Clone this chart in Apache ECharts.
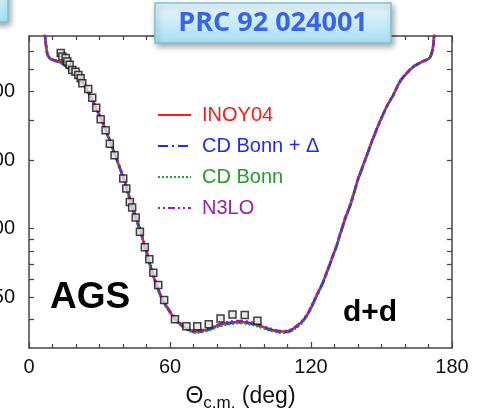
<!DOCTYPE html>
<html><head><meta charset="utf-8">
<script src="https://cdn.jsdelivr.net/npm/echarts@6/dist/echarts.min.js"></script>
<style>html,body{margin:0;padding:0;background:#fff;overflow:hidden}#c{width:485px;height:412px}</style>
</head><body><div id="c"></div>
<script>
// ---- data ----
const thetaCurve = [6,6.8,7.8,9,11,14,17,20,23,26,29,32,35,38,41,44,47,50,53,56,59,62,65,68,71,74,77,80,83,86,89,92,95,98,101,104,107,110,113,116,119,122,125,128,131,134,137,140,143,146,149,152,155,158,161,164,167,170,171,171.9,172.4,173.2];
const inoy04      = [900,704,585,558,546,533,504,470,434,383,330,282,234,193,158,124,101,79,62,51,44.8,40.5,37.7,36.2,35.4,35.7,36.5,37.5,38.3,38.8,39.0,38.9,38.4,37.6,36.7,35.9,35.4,35.5,36.8,39.0,43,50,58,70,85,107,130,165,200,243,290,340,386,445,484,518,538,556,575,625,704,900];
const cdBonnDelta = [900,700,582,556,545,531,503,469,433,382,329,281,233,192,157,123,100,78.5,61.7,50.8,44.6,40.3,37.5,36.0,35.2,35.5,36.3,37.3,38.1,38.6,38.8,38.7,38.2,37.4,36.5,35.7,35.2,35.3,36.6,38.8,42.8,49.7,57.7,69.6,84.6,106,129,164,199,242,289,339,385,444,483,517,537,555,573,622,700,900];
const cdBonn      = [900,698,580,555,544,530,502,468,432,381,328,280,232,191,156,122,99.5,78,61.3,50.5,44.3,40.1,37.3,35.8,35.0,35.3,36.0,37.0,37.8,38.3,38.5,38.4,37.9,37.1,36.2,35.5,35.0,35.1,36.3,38.5,42.5,49.4,57.4,69.2,84.2,105.5,128.5,163,198,241,288,338,384,443,482,516,536,554,572,620,698,900];
const n3lo        = [900,706,588,560,548,535,506,472,436,385,332,284,236,195,159,125,102,79.5,62.4,51.3,45.1,40.8,38.0,36.5,35.7,36.0,36.8,37.8,38.7,39.2,39.4,39.3,38.8,37.9,37.0,36.1,35.6,35.7,37.0,39.3,43.3,50.3,58.4,70.5,85.5,108,131,166,201,244,291,341,387,446,485,519,539,557,577,628,706,900];
const thetaData  = [13.5,14.2,15.6,16.3,17.3,18.4,19.8,21.0,22.0,22.7,25.2,26.9,28.6,30.5,32.6,34.4,36.4,40.1,41.4,42.9,43.9,45.4,47.2,49.3,51.2,52.9,55.0,57.5,62.1,67.0,71.6,76.5,81.5,86.6,91.8,97.2];
const dataValues = [589,569,560,541,523,497,488,472,457,434,410,375,339,302,270,236,210,166,150,131,124,112,97,83,73.5,64.2,56.6,48.7,40.1,37.4,37.4,38.1,40.4,42.1,41.9,39.5];
const xTickLabels = [0,60,120,180];
const yTickLabels = [50,100,200,400];
const yTicks = [40,50,60,70,80,90,100,200,300,400,500,600];
const seriesNames = ['INOY04','CD Bonn + \u0394','CD Bonn','N3LO'];

// ---- chart ----
const FONT = '"Liberation Sans", Arial, Helvetica, sans-serif';
const pair = (xs, ys) => xs.map((x, i) => [x, ys[i]]);
const frameLine = {show:true, onZero:false, lineStyle:{color:'#444', width:1.5}};
const tickStyle = {color:'#444', width:1.2};
const colors = ['#f21d1d','#1f2cf5','#2a9a2a','#9a1fa8'];
const dashes = ['solid',[10,4,2,4],[2,2],[2,3,2,3,7,3]];
const curves = [inoy04, cdBonnDelta, cdBonn, n3lo];

const chart = echarts.init(document.getElementById('c'), null, {renderer:'canvas'});
const lineSeries = curves.map((vals, i) => ({
  name: seriesNames[i], type:'line', data: pair(thetaCurve, vals),
  symbol:'none', showSymbol:false, smooth:0.3, clip:true, z:2+i,
  lineStyle:{color:colors[i], width:2.5, type:dashes[i]},
  itemStyle:{color:colors[i]}
}));
const boxStyle = {
  fill:{type:'linear',x:0,y:0,x2:0,y2:1,colorStops:[{offset:0,color:'#e9f8fd'},{offset:1,color:'#a9dff4'}]},
  stroke:'#79c3dc', lineWidth:1.5, shadowBlur:6, shadowOffsetX:2, shadowOffsetY:3, shadowColor:'rgba(0,0,0,0.35)'
};
const option = {
  animation:false,
  grid:{left:29, right:33, top:36, bottom:64, outerBoundsMode:'none', containLabel:false},
  xAxis:[{
    type:'value', min:0, max:180, interval:60, position:'bottom',
    axisLine:frameLine,
    axisTick:{inside:true, length:6, lineStyle:tickStyle},
    minorTick:{show:true, splitNumber:6, length:4, lineStyle:tickStyle},
    splitLine:{show:false}, minorSplitLine:{show:false},
    axisLabel:{fontSize:20, color:'#111', fontFamily:FONT, margin:9, customValues:xTickLabels},
    name:'{a|\u0398}{b|c.m.}{a| (deg)}', nameLocation:'middle', nameGap:34,
    nameTextStyle:{rich:{
      a:{fontSize:23, fontFamily:FONT, color:'#111', lineHeight:30, verticalAlign:'middle'},
      b:{fontSize:17, fontFamily:FONT, color:'#111', lineHeight:30, verticalAlign:'bottom'}
    }}
  },{
    type:'value', min:0, max:180, interval:60, position:'top',
    axisLine:frameLine,
    axisTick:{inside:true, length:6, lineStyle:tickStyle},
    minorTick:{show:true, splitNumber:6, length:4, lineStyle:tickStyle},
    splitLine:{show:false}, axisLabel:{show:false}
  }],
  yAxis:[{
    type:'log', min:30, max:700, position:'left',
    axisLine:frameLine,
    axisTick:{inside:true, length:5, lineStyle:tickStyle, customValues:yTicks},
    axisLabel:{fontSize:20, color:'#111', fontFamily:FONT, margin:14, customValues:yTickLabels,
      formatter:v => String(Math.round(v))},
    splitLine:{show:false}
  },{
    type:'log', min:30, max:700, position:'right',
    axisLine:frameLine,
    axisTick:{inside:true, length:5, lineStyle:tickStyle, customValues:yTicks},
    axisLabel:{show:false}, splitLine:{show:false}
  }],
  legend:{
    orient:'vertical', left:157, top:105, itemWidth:33, itemHeight:14, itemGap:11, padding:0,
    itemStyle:{opacity:0},
    data: seriesNames.map((n, i) => ({name:n, textStyle:{color:colors[i]}})),
    textStyle:{fontSize:20, fontFamily:FONT, padding:[0,0,0,6]}
  },
  series:[...lineSeries, {
    name:'AGS data', type:'scatter', data: pair(thetaData, dataValues),
    symbol:'rect', symbolSize:7, z:10,
    itemStyle:{color:'#e4e4e4', borderColor:'#111', borderWidth:1.5}
  }],
  graphic:[
    {type:'rect', z:100, shape:{x:155, y:3, width:236, height:40}, style:boxStyle},
    {type:'text', z:101, x:273, y:23, style:{text:'PRC 92 024001', font:'bold 27px "Open Sans"', fill:'#3a63e8', align:'center', verticalAlign:'middle'}},
    {type:'rect', z:100, shape:{x:-50, y:-20, width:58, height:42}, style:boxStyle},
    {type:'text', z:50, x:50, y:279, style:{text:'AGS', font:'bold 37px "Liberation Sans"', fill:'#000'}},
    {type:'text', z:50, x:343, y:298, style:{text:'d+d', font:'bold 30px "Liberation Sans"', fill:'#000'}}
  ]
};
chart.setOption(option);
</script>
</body></html>
